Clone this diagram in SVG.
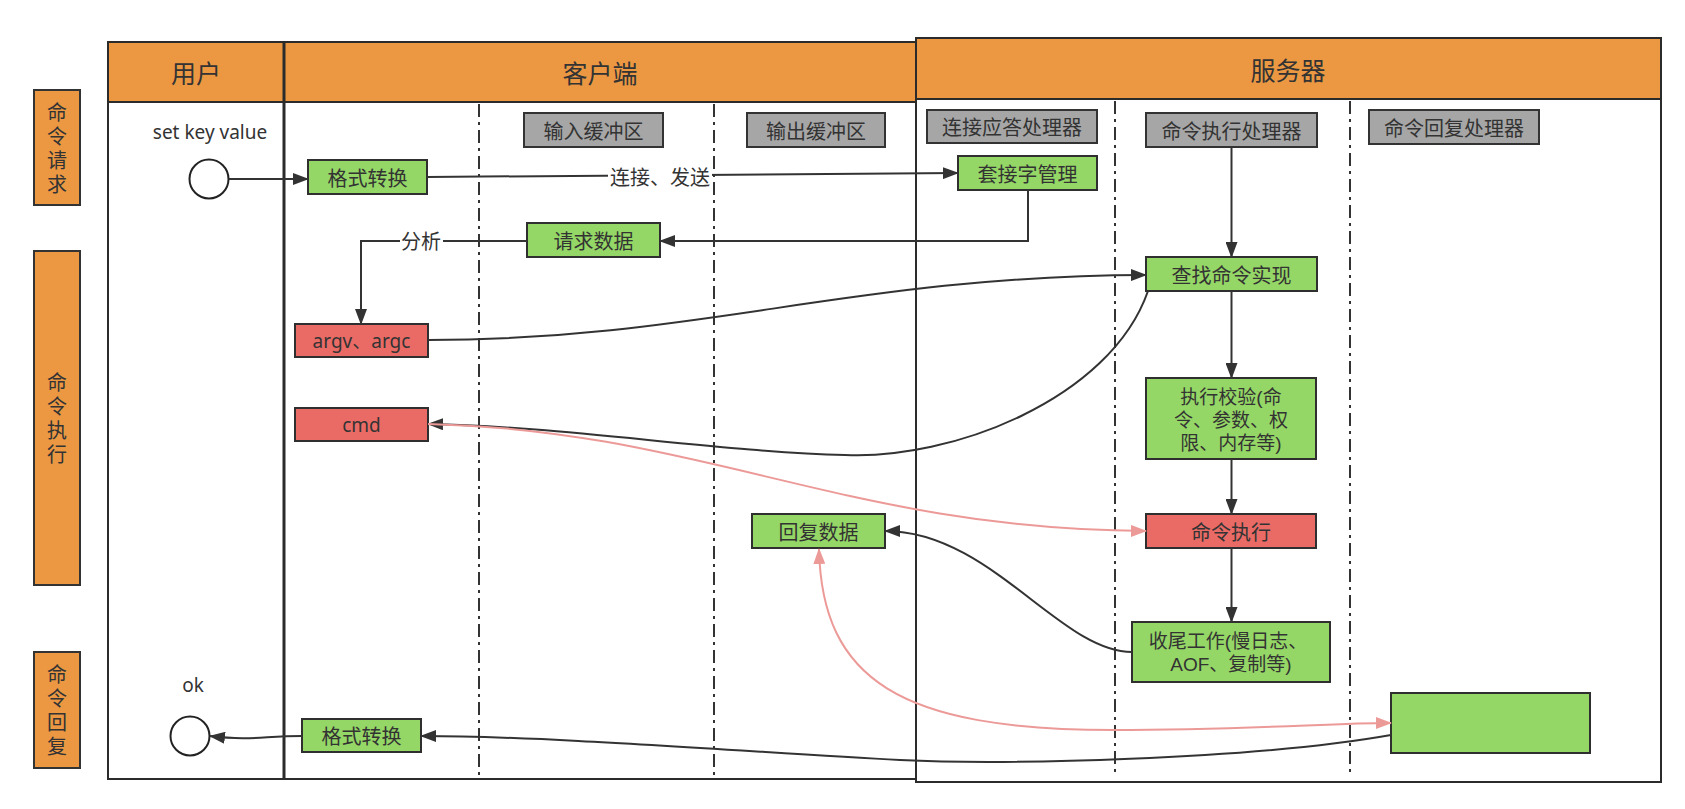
<svg xmlns="http://www.w3.org/2000/svg" width="1685" height="809" viewBox="0 0 1685 809">
<style>
.t{font-family:"Noto Sans CJK SC","Noto Sans",sans-serif;font-size:20px;fill:#333;text-anchor:middle;dominant-baseline:central}
.v{font-family:"Noto Sans CJK SC","Noto Sans",sans-serif;font-size:20px;fill:#333;text-anchor:middle;writing-mode:vertical-rl;letter-spacing:4px}
.h{font-size:25px}
.m{font-family:"Liberation Sans","Noto Sans CJK SC",sans-serif;font-size:19px}
.lat{font-family:"Noto Sans","Noto Sans CJK SC",sans-serif;font-size:19px}
.lab{fill:#EC9843;stroke:#333;stroke-width:2}
.hdr{fill:#EC9843;stroke:#2b2b2b;stroke-width:2}
.pool{fill:#fff;stroke:#2b2b2b;stroke-width:2}
.gray{fill:#A6A6A6;stroke:#333;stroke-width:2}
.green{fill:#95D766;stroke:#2f2f2f;stroke-width:2}
.red{fill:#EA6B66;stroke:#2f2f2f;stroke-width:2}
.dash{stroke:#333;stroke-width:2;stroke-dasharray:13 5 3 5;fill:none}
.c{fill:none;stroke:#333;stroke-width:2;marker-end:url(#ah)}
.p{fill:none;stroke:#EC9A98;stroke-width:2;marker-end:url(#ahp)}
.circ{fill:#fff;stroke:#222;stroke-width:2}
</style>
<defs>
<marker id="ah" viewBox="0 0 16 12" refX="15" refY="6" markerWidth="16" markerHeight="12" markerUnits="userSpaceOnUse" orient="auto"><path d="M0,0 L16,6 L0,12 Z" fill="#333"/></marker>
<marker id="ahp" viewBox="0 0 16 12" refX="15" refY="6" markerWidth="16" markerHeight="12" markerUnits="userSpaceOnUse" orient="auto-start-reverse"><path d="M0,0 L16,6 L0,12 Z" fill="#EC9A98"/></marker>
</defs>
<rect width="1685" height="809" fill="#fff"/>

<g id="phase-request"><rect class="lab" x="34" y="90" width="46" height="115"/><text class="v" x="57" y="150">命令请求</text></g>
<g id="phase-exec"><rect class="lab" x="34" y="251" width="46" height="334"/><text class="v" x="57" y="420">命令执行</text></g>
<g id="phase-reply"><rect class="lab" x="34" y="652" width="46" height="116"/><text class="v" x="57" y="712">命令回复</text></g>

<g id="pool-client">
<rect class="pool" x="108" y="42" width="808" height="737"/>
<rect class="hdr" x="108" y="42" width="808" height="60"/>
<line x1="284" y1="42" x2="284" y2="779" stroke="#2b2b2b" stroke-width="3"/>
<text class="t h" x="196" y="72">用户</text>
<text class="t h" x="600" y="72">客户端</text>
<line class="dash" x1="479" y1="104" x2="479" y2="776"/>
<line class="dash" x1="714" y1="104" x2="714" y2="776"/>
</g>
<g id="pool-server">
<rect class="pool" x="916" y="38" width="745" height="744"/>
<rect class="hdr" x="916" y="38" width="745" height="61"/>
<text class="t h" x="1288" y="69">服务器</text>
<line class="dash" x1="1115" y1="101" x2="1115" y2="776"/>
<line class="dash" x1="1350" y1="101" x2="1350" y2="776"/>
</g>

<g id="start"><circle class="circ" cx="209" cy="179" r="19.5"/><text class="t lat" x="210" y="132">set key value</text></g>
<g id="end"><circle class="circ" cx="190" cy="736" r="19.5"/><text class="t lat" x="193" y="685">ok</text></g>

<g id="inbuf"><rect class="gray" x="524" y="113" width="139" height="34"/><text class="t" x="593.5" y="130">输入缓冲区</text></g>
<g id="outbuf"><rect class="gray" x="747" y="113" width="138" height="34"/><text class="t" x="816" y="130">输出缓冲区</text></g>
<g id="conn-handler"><rect class="gray" x="927" y="110" width="170" height="33"/><text class="t" x="1012" y="126.5">连接应答处理器</text></g>
<g id="exec-handler"><rect class="gray" x="1146" y="113" width="171" height="34"/><text class="t" x="1231.5" y="130">命令执行处理器</text></g>
<g id="reply-handler"><rect class="gray" x="1369" y="110" width="170" height="34"/><text class="t" x="1454" y="127">命令回复处理器</text></g>

<g id="fmt1"><rect class="green" x="308" y="160" width="119" height="34"/><text class="t" x="367.5" y="177">格式转换</text></g>
<g id="socket"><rect class="green" x="958" y="156" width="139" height="34"/><text class="t" x="1027.5" y="173">套接字管理</text></g>
<g id="reqdata"><rect class="green" x="527" y="223" width="133" height="34"/><text class="t" x="593.5" y="240">请求数据</text></g>
<g id="argv"><rect class="red" x="295" y="324" width="133" height="33"/><text class="t lat" x="361.5" y="340.5">argv、argc</text></g>
<g id="cmd"><rect class="red" x="295" y="408" width="133" height="33"/><text class="t lat" x="361.5" y="424.5">cmd</text></g>
<g id="find"><rect class="green" x="1146" y="257" width="171" height="34"/><text class="t" x="1231.5" y="274">查找命令实现</text></g>
<g id="check"><rect class="green" x="1146" y="378" width="170" height="81"/><text class="t m" x="1231" y="397">执行校验(命</text><text class="t m" x="1231" y="420">令、参数、权</text><text class="t m" x="1231" y="443">限、内存等)</text></g>
<g id="run"><rect class="red" x="1146" y="514" width="170" height="34"/><text class="t" x="1231" y="531">命令执行</text></g>
<g id="tail"><rect class="green" x="1132" y="622" width="198" height="60"/><text class="t m" x="1228" y="641">收尾工作(慢日志、</text><text class="t m" x="1231" y="664">AOF、复制等)</text></g>
<g id="replydata"><rect class="green" x="752" y="514" width="133" height="34"/><text class="t" x="818.5" y="531">回复数据</text></g>
<g id="replybox"><rect class="green" x="1391" y="693" width="199" height="60"/></g>
<g id="fmt2"><rect class="green" x="302" y="719" width="119" height="33"/><text class="t" x="361.5" y="735.5">格式转换</text></g>

<g id="connectors">
<path class="c" d="M229,179 L308,179"/>
<path class="c" d="M427,177 L958,173"/>
<rect x="608" y="163" width="104" height="26" fill="#fff"/>
<text class="t" x="660" y="176">连接、发送</text>
<path class="c" d="M1028,190 L1028,241 L660,241"/>
<path class="c" d="M527,241 L361,241 L361,324"/>
<rect x="400" y="229" width="43" height="24" fill="#fff"/>
<text class="t" x="421" y="240">分析</text>
<path class="c" d="M428,340 C700,340 850,276 1146,275"/>
<path class="c" d="M1148,291 C1110,400 950,460 845,455 C720,452 560,426 428,424"/>
<path class="p" d="M428,424 C700,430 850,530 1146,531"/>
<path class="c" d="M1231.5,147 L1231.5,257"/>
<path class="c" d="M1231.5,291 L1231.5,378"/>
<path class="c" d="M1231.5,459 L1231.5,514"/>
<path class="c" d="M1231.5,548 L1231.5,622"/>
<path class="c" d="M1132,652 C1060,652 990,531 885,531"/>
<path class="p" style="marker-start:url(#ahp)" d="M819,549 C822,680 900,730 1114,730 C1250,730 1330,723 1391,723"/>
<path class="c" d="M1391,735 C1250,760 1000,765 900,760 C750,752 550,736 421,736"/>
<path class="c" d="M302,736 C262,736 252,741 210,736"/>
</g>
</svg>
